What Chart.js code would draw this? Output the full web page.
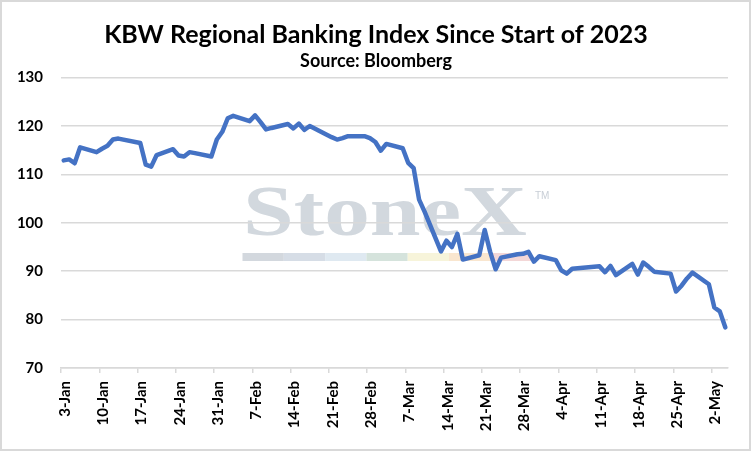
<!DOCTYPE html>
<html>
<head>
<meta charset="utf-8">
<script src="https://cdn.jsdelivr.net/npm/chart.js@4.4.0/dist/chart.umd.min.js"></script>
<style>
  html, body { margin: 0; padding: 0; background: #fff; }
  #wrap { position: relative; width: 752px; height: 452px; }
  #frame { position: absolute; left: 0; top: 0; width: 751px; height: 451px; box-sizing: border-box; border: 2px solid #d9d9d9; pointer-events: none; }
</style>
</head>
<body>
<div id="wrap">
  <canvas id="chart" width="752" height="452"></canvas>
  <div id="frame"></div>
</div>
<script>
// trading days and index level
const tradeDates = [
  "2023-01-03", "2023-01-04", "2023-01-05", "2023-01-06", "2023-01-09", "2023-01-10", "2023-01-11", "2023-01-12", "2023-01-13",
  "2023-01-17", "2023-01-18", "2023-01-19", "2023-01-20", "2023-01-23", "2023-01-24", "2023-01-25", "2023-01-26", "2023-01-27",
  "2023-01-30", "2023-01-31", "2023-02-01", "2023-02-02", "2023-02-03", "2023-02-06", "2023-02-07", "2023-02-08", "2023-02-09",
  "2023-02-10", "2023-02-13", "2023-02-14", "2023-02-15", "2023-02-16", "2023-02-17", "2023-02-21", "2023-02-22", "2023-02-23",
  "2023-02-24", "2023-02-27", "2023-02-28", "2023-03-01", "2023-03-02", "2023-03-03", "2023-03-06", "2023-03-07", "2023-03-08",
  "2023-03-09", "2023-03-10", "2023-03-13", "2023-03-14", "2023-03-15", "2023-03-16", "2023-03-17", "2023-03-20", "2023-03-21",
  "2023-03-22", "2023-03-23", "2023-03-24", "2023-03-27", "2023-03-28", "2023-03-29", "2023-03-30", "2023-03-31", "2023-04-03",
  "2023-04-04", "2023-04-05", "2023-04-06", "2023-04-10", "2023-04-11", "2023-04-12", "2023-04-13", "2023-04-14", "2023-04-17",
  "2023-04-18", "2023-04-19", "2023-04-20", "2023-04-21", "2023-04-24", "2023-04-25", "2023-04-26", "2023-04-27", "2023-04-28",
  "2023-05-01", "2023-05-02", "2023-05-03", "2023-05-04"
];
const indexValues = [
  112.9, 113.1, 112.3, 115.6, 114.6, 115.3, 115.9, 117.2, 117.4,
  116.5, 112.0, 111.6, 114.0, 115.2, 113.9, 113.7, 114.6, 114.4,
  113.7, 117.2, 118.8, 121.6, 122.1, 121.0, 122.2, 120.8, 119.3,
  119.6, 120.4, 119.5, 120.5, 119.2, 120.0, 117.7, 117.2, 117.5,
  117.9, 117.9, 117.5, 116.7, 114.9, 116.3, 115.4, 112.4, 111.3,
  104.8, 102.3, 94.1, 96.3, 95.0, 97.7, 92.4, 93.3, 98.5,
  94.0, 90.4, 92.8, 93.5, 93.6, 94.0, 92.0, 93.1, 92.3,
  90.2, 89.5, 90.5, 90.9, 91.0, 89.8, 91.1, 89.2, 91.5,
  89.3, 91.8, 90.9, 89.9, 89.5, 85.8, 87.0, 88.5, 89.7,
  87.3, 82.5, 81.7, 78.4
];
// weekly axis labels, y ticks
const tickLabels = ["3-Jan", "10-Jan", "17-Jan", "24-Jan", "31-Jan", "7-Feb", "14-Feb", "21-Feb", "28-Feb",
  "7-Mar", "14-Mar", "21-Mar", "28-Mar", "4-Apr", "11-Apr", "18-Apr", "25-Apr", "2-May"];
const yTicks = [70, 80, 90, 100, 110, 120, 130];

const startDay = new Date("2023-01-03").getTime();
const dayMs = 86400000;

// each day is one slot on the date axis, the point sits in the middle of it
const points = tradeDates.map(function (d, i) {
  return { x: (new Date(d).getTime() - startDay) / dayMs + 0.5, y: indexValues[i] };
});

const fontFamily = "Lato, 'Open Sans', sans-serif";

// faint StoneX logo behind the gridlines
const watermark = {
  id: "watermark",
  beforeDraw(chart) {
    const c = chart.ctx;
    c.save();
    c.font = "bold 71px 'Liberation Serif', serif";
    c.fillStyle = "#d2d8de";
    c.textBaseline = "alphabetic";
    const w = c.measureText("StoneX").width;
    c.translate(243, 235);
    c.scale(284 / w, 1);
    c.fillText("StoneX", 0, 0);
    c.restore();

    c.save();
    c.font = "10px 'Liberation Sans', sans-serif";
    c.fillStyle = "#c8ced6";
    c.fillText("TM", 535, 199);
    c.restore();

    const bar = ["#d3d8de", "#d6dde6", "#dfe9f1", "#d5e3dc", "#f7f4da", "#f9e6cf", "#f3d7d7"];
    bar.forEach(function (col, i) {
      c.fillStyle = col;
      c.fillRect(242.5 + i * 41.3, 253, 41.3, 8);
    });
  }
};

new Chart(document.getElementById("chart"), {
  type: "line",
  data: {
    datasets: [{
      data: points,
      borderColor: "#4472c4",
      borderWidth: 4.5,
      pointRadius: 0,
      tension: 0,
      borderJoinStyle: "round",
      borderCapStyle: "round"
    }]
  },
  options: {
    responsive: false,
    animation: false,
    layout: { padding: 0 },
    plugins: {
      legend: { display: false },
      tooltip: { enabled: false },
      title: {
        display: true,
        text: "KBW Regional Banking Index Since Start of 2023",
        color: "#000",
        font: { family: fontFamily, size: 25, weight: "bold" },
        padding: { top: 20, bottom: 0 }
      },
      subtitle: {
        display: true,
        text: "Source: Bloomberg",
        color: "#000",
        font: { family: fontFamily, size: 18, weight: "bold" },
        padding: { top: 0, bottom: 6 }
      }
    },
    scales: {
      x: {
        type: "linear",
        min: 0,
        max: 122,
        afterBuildTicks: function (axis) {
          axis.ticks = tickLabels.map(function (l, i) { return { value: i * 7 }; });
        },
        afterFit: function (axis) { axis.height = 84; },
        grid: { drawOnChartArea: false, drawTicks: true, tickLength: 5, color: "#d9d9d9", lineWidth: 1.5 },
        border: { color: "#d9d9d9", width: 1.5 },
        ticks: {
          autoSkip: false,
          minRotation: 90,
          maxRotation: 90,
          padding: 8,
          labelOffset: 4,
          color: "#000",
          font: { family: fontFamily, size: 15, weight: "bold" },
          callback: function (v, i) { return tickLabels[i]; }
        }
      },
      y: {
        min: 70,
        max: 130,
        afterBuildTicks: function (axis) {
          axis.ticks = yTicks.map(function (v) { return { value: v }; });
        },
        afterFit: function (axis) { axis.width = 61; },
        grid: { color: "#d9d9d9", lineWidth: 1.5, drawTicks: false },
        border: { display: false },
        ticks: {
          padding: 18,
          color: "#000",
          font: { family: fontFamily, size: 15, weight: "bold" }
        }
      },
      // empty spacer on the right so the title stays centred on the page
      spacer: {
        position: "right",
        display: true,
        afterFit: function (axis) { axis.width = 24; },
        grid: { display: false },
        border: { display: false },
        ticks: { display: false }
      }
    }
  },
  plugins: [watermark]
});
</script>
</body>
</html>
